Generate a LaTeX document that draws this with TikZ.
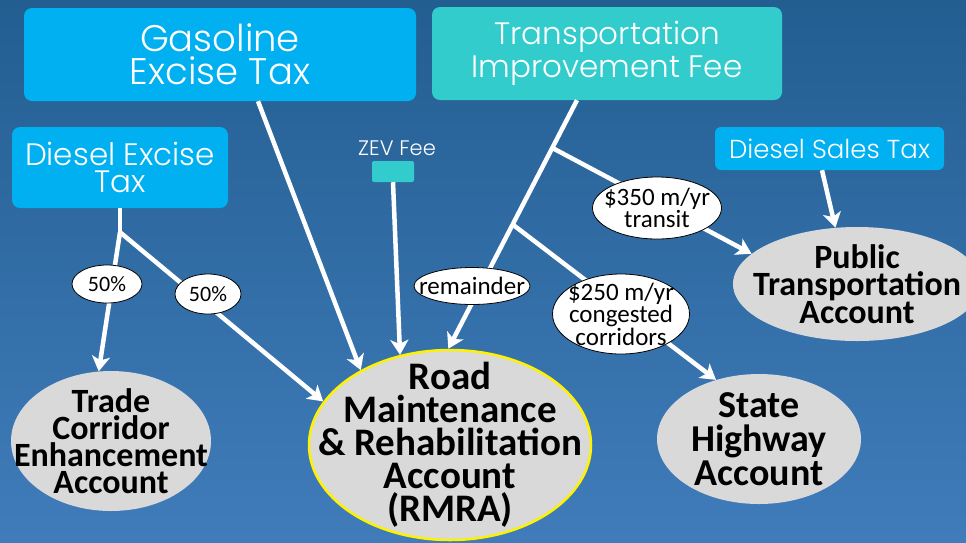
\documentclass[tikz,border=0pt]{standalone}
\usepackage{fontspec}
\setmainfont{Carlito}
\newfontfamily\gothic{Poppins}[UprightFont=* Light]
\usetikzlibrary{arrows.meta, shapes.geometric, calc}
\definecolor{bgtop}{RGB}{35,94,145}
\definecolor{bgbot}{RGB}{64,124,186}
\definecolor{taxblue}{HTML}{00B0F0}
\definecolor{feeteal}{HTML}{33CCCC}
\definecolor{acctgray}{HTML}{D9D9D9}

\begin{document}
\begin{tikzpicture}[
  x=1pt, y=-1pt,
  source/.style={rectangle, rounded corners=8pt, fill=#1, text=white, align=center, inner sep=0pt},
  account/.style={ellipse, fill=acctgray, align=center, inner sep=-80pt},
  share/.style={ellipse, draw=black, fill=white, line width=0.8pt, align=center, inner sep=-40pt},
  flow/.style={draw=white, line width=4.5pt},
  edge/.style={flow, -{Stealth[length=15pt, width=18pt, inset=4pt]}},
]

% Background
\shade[top color=bgtop, bottom color=bgbot] (0,0) rectangle (966,542);
\useasboundingbox (0,0) rectangle (966,542);

% Sources
\node[source=taxblue, minimum width=392pt, minimum height=93pt, font=\gothic\fontsize{37}{33}\selectfont] (gas) at (220,54.5) {Gasoline\\Excise Tax};
\node[source=feeteal, minimum width=350pt, minimum height=93pt, font=\gothic\fontsize{31}{33}\selectfont] (tif) at (607,53.5) {Transportation\\Improvement Fee};
\node[source=taxblue, minimum width=216pt, minimum height=81pt, font=\gothic\fontsize{31}{27}\selectfont] (dex) at (120,167.5) {Diesel Excise\\Tax};
\node[source=taxblue, minimum width=229pt, minimum height=43pt, rounded corners=6pt, font=\gothic\fontsize{26}{30}\selectfont] (dst) at (829.5,148.5) {Diesel Sales Tax};
\node[source=feeteal, minimum width=42pt, minimum height=21pt, rounded corners=2pt] (zev) at (393,171.5) {};
\node[text=white, font=\gothic\fontsize{21}{22}\selectfont] (zevname) at (397,148) {ZEV Fee};

% Accounts
\node[account, minimum width=200pt, minimum height=140pt, font=\bfseries\fontsize{34}{27}\selectfont] (tce) at (111,441) {Trade\\Corridor\\Enhancement\\Account};
\node[account, draw=yellow, line width=2.5pt, minimum width=282pt, minimum height=190pt, font=\bfseries\fontsize{39}{33}\selectfont] (rmra) at (450,445) {Road\\Maintenance\\\& Rehabilitation\\Account\\(RMRA)};
\node[account, minimum width=204pt, minimum height=130pt, font=\bfseries\fontsize{38}{34}\selectfont] (sha) at (759,439) {State\\Highway\\Account};
\node[account, minimum width=248pt, minimum height=114pt, font=\bfseries\fontsize{34}{27}\selectfont] (pta) at (857,284) {Public\\Transportation\\Account};

% Flows
\coordinate (dexsplit) at ([yshift=-24pt]dex.south);
\draw[flow] (dex.south) -- (dexsplit);
\draw[edge] (dexsplit) -- (tce.100);
\draw[edge] (dexsplit) -- (rmra.161);
\draw[edge] ([xshift=38pt]gas.south) -- (rmra.140);
\draw[edge] (zev.south) -- (rmra.119);
\coordinate (tifout) at ([xshift=-30pt]tif.south);
\coordinate (tifA) at ($(tifout)!0.192!(rmra.91)$);
\coordinate (tifB) at ($(tifout)!0.5!(rmra.91)$);
\draw[edge] (tifout) -- (rmra.91);
\draw[edge] (tifA) -- (pta.164);
\draw[edge] (tifB) -- (sha.126);
\draw[edge] ([xshift=-7.5pt]dst.south) -- (pta.111);

% Shares
\node[share, minimum width=70pt, minimum height=38pt, font=\fontsize{22}{22}\selectfont] (pctA) at (107,284) {50\%};
\node[share, minimum width=66pt, minimum height=40pt, font=\fontsize{22}{22}\selectfont] (pctB) at (208,294) {50\%};
\node[share, minimum width=116pt, minimum height=37pt, font=\fontsize{25}{24}\selectfont] (rem) at (472,286) {remainder};
\node[share, minimum width=129pt, minimum height=62pt, font=\fontsize{25}{17}\selectfont] (transit) at (657,208) {\$350 m/yr\\transit};
\node[share, minimum width=137pt, minimum height=80pt, font=\fontsize{25}{19}\selectfont] (corr) at (621,314) {\$250 m/yr\\congested\\corridors};

\end{tikzpicture}
\end{document}
